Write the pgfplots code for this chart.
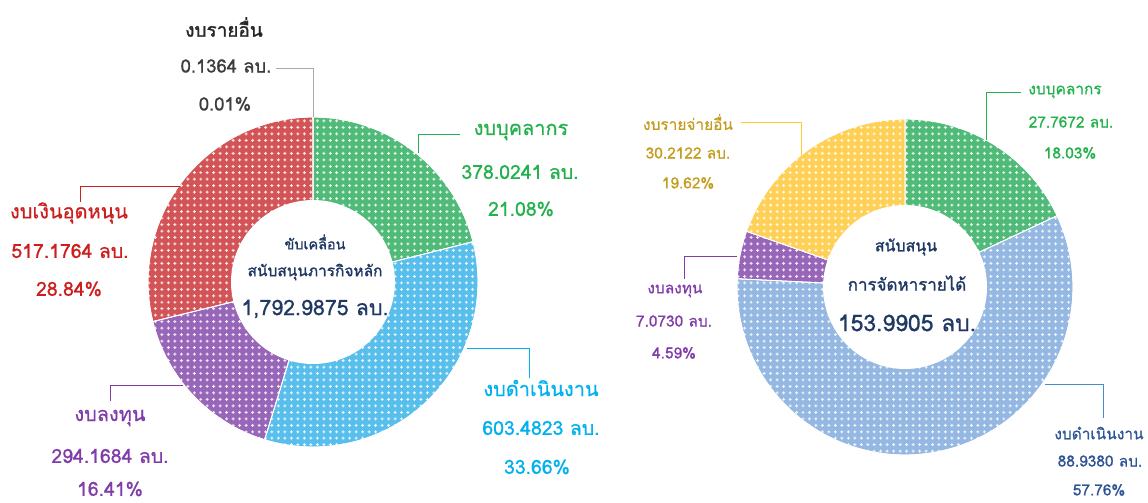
\documentclass[border=0pt]{standalone}
\usepackage{fontspec}
\setmainfont[Script=Thai]{Loma}
\newfontfamily\med[Script=Thai, FakeBold=0.7]{Loma}
\newfontfamily\hvy[Script=Thai, FakeBold=1.4]{Loma}
\usepackage{pgfplots}
\pgfplotsset{compat=1.18}
\usetikzlibrary{patterns}
\pgfdeclarepatternformonly{plusgrid}{\pgfqpoint{-2pt}{-2pt}}{\pgfqpoint{2pt}{2pt}}{\pgfqpoint{6.5pt}{6.5pt}}{%
  \pgfpathrectangle{\pgfqpoint{-1.5pt}{-0.5pt}}{\pgfqpoint{3pt}{1pt}}%
  \pgfpathrectangle{\pgfqpoint{-0.5pt}{-1.5pt}}{\pgfqpoint{1pt}{3pt}}%
  \pgfusepath{fill}}
% slice fill colours
\definecolor{gSl}{RGB}{80,186,120}
\definecolor{bSl}{RGB}{88,190,236}
\definecolor{pSl}{RGB}{152,102,184}
\definecolor{rSl}{RGB}{210,84,86}
\definecolor{gySl}{RGB}{160,160,160}
\definecolor{rbSl}{RGB}{148,184,226}
\definecolor{ySl}{RGB}{255,208,86}
% text colours
\definecolor{gT}{RGB}{34,177,76}
\definecolor{rT}{RGB}{204,30,30}
\definecolor{pT}{RGB}{128,60,168}
\definecolor{cT}{RGB}{0,176,240}
\definecolor{nT}{RGB}{31,56,100}
\definecolor{yT}{RGB}{196,156,30}
\definecolor{yL}{RGB}{255,204,51}
\definecolor{bT}{RGB}{47,84,150}
\definecolor{bL}{RGB}{68,140,205}
\definecolor{grT}{RGB}{60,60,60}
\definecolor{grL}{RGB}{170,170,170}
% ---- data (percent shares) ----
% left: personnel, operating, investment, subsidy, other
\def\LA{21.08}\def\LB{33.66}\def\LC{16.41}\def\LD{28.84}\def\LE{0.01}
% right: personnel, operating, investment, other expenses
\def\RA{18.03}\def\RB{57.76}\def\RC{4.59}\def\RD{19.62}
\pgfmathsetmacro\La{\LA}
\pgfmathsetmacro\Lb{\La+\LB}
\pgfmathsetmacro\Lc{\Lb+\LC}
\pgfmathsetmacro\Ld{\Lc+\LD}
\pgfmathsetmacro\Le{\Ld+\LE}
\pgfmathsetmacro\Ra{\RA}
\pgfmathsetmacro\Rb{\Ra+\RB}
\pgfmathsetmacro\Rc{\Rb+\RC}
\pgfmathsetmacro\Rd{\Rc+\RD}
% cx, cy, R, p0, p1, colour
\newcommand{\slice}[6]{%
  \addplot[draw=white, line width=0.8pt, fill=#6, no markers, domain=#4:#5, samples=90, variable=\t,
    postaction={pattern=plusgrid, pattern color=white!85!#6}]
    ({#1+#3*cos(90-3.6*\t)},{#2-#3*sin(90-3.6*\t)}) -- (#1,#2) -- cycle;}
\newcommand{\hole}[3]{%
  \addplot[draw=none, fill=white, no markers, domain=0:360, samples=120, variable=\t]
    ({#1+#3*cos(\t)},{#2-#3*sin(\t)}) -- cycle;}
\newcommand{\fs}[1]{\fontsize{#1}{#1}\selectfont}
\begin{document}
\begin{tikzpicture}
\begin{axis}[width=1148bp, height=503bp, scale only axis, xmin=0, xmax=1148, ymin=0, ymax=503,
  y dir=reverse, hide axis, clip=false]
% ---------- left donut ----------
\slice{313}{282}{165}{0}{\La}{gSl}
\slice{313}{282}{165}{\La}{\Lb}{bSl}
\slice{313}{282}{165}{\Lb}{\Lc}{pSl}
\slice{313}{282}{165}{\Lc}{\Ld}{rSl}
\slice{313}{282}{165}{\Ld}{\Le}{gySl}
\hole{313}{282}{82}
% ---------- right donut ----------
\slice{905}{287}{168}{0}{\Ra}{gSl}
\slice{905}{287}{168}{\Ra}{\Rb}{rbSl}
\slice{905}{287}{168}{\Rb}{\Rc}{pSl}
\slice{905}{287}{168}{\Rc}{\Rd}{ySl}
\hole{905}{287}{82}
% ---------- left labels ----------
\draw[grL, line width=1pt] (276,68) -- (313,68) -- (313,117);
\node[font=\fs{19}\hvy, text=black!85] at (224,27) {งบรายอื่น};
\node[font=\fs{18.5}\med, text=grT] at (226,66) {0.1364 ลบ.};
\node[font=\fs{18.5}\med, text=grT] at (225,104) {0.01\%};

\draw[gT, line width=1pt] (418,153) -- (418,134) -- (460,134);
\node[font=\fs{20}\med, text=gT] at (521,132) {งบบุคลากร};
\node[font=\fs{19.5}\med, text=gT] at (520,172) {378.0241 ลบ.};
\node[font=\fs{19.5}\med, text=gT] at (521,209) {21.08\%};

\draw[rT, line width=1pt] (180,186) -- (80,186) -- (80,202);
\node[font=\fs{20}\med, text=rT] at (69,213) {งบเงินอุดหนุน};
\node[font=\fs{19.5}\med, text=rT] at (70,251) {517.1764 ลบ.};
\node[font=\fs{19.5}\med, text=rT] at (69,289) {28.84\%};

\draw[pT, line width=1pt] (183,385) -- (110,385) -- (110,401);
\node[font=\fs{20}\med, text=pT] at (110,418) {งบลงทุน};
\node[font=\fs{19.5}\med, text=pT] at (110,456) {294.1684 ลบ.};
\node[font=\fs{19.5}\med, text=pT] at (110,489) {16.41\%};

\draw[cT, line width=1pt] (467,348) -- (529,348) -- (529,378);
\node[font=\fs{20}\med, text=cT] at (541,388) {งบดำเนินงาน};
\node[font=\fs{19.5}\med, text=cT] at (541,428) {603.4823 ลบ.};
\node[font=\fs{19.5}\med, text=cT] at (537,467) {33.66\%};

\node[font=\fs{14.5}\hvy, text=nT] at (315,242) {ขับเคลื่อน};
\node[font=\fs{15.5}\hvy, text=nT] at (315,272) {สนับสนุนภารกิจหลัก};
\node[font=\fs{21.5}\med, text=nT] at (315,309) {1,792.9875 ลบ.};
% ---------- right labels ----------
\draw[yL, line width=1pt] (741,122) -- (801,122) -- (801,155);
\node[font=\fs{15.5}\med, text=yT] at (688,122) {งบรายจ่ายอื่น};
\node[font=\fs{15.5}\med, text=yT] at (688,153) {30.2122 ลบ.};
\node[font=\fs{15.5}\med, text=yT] at (688,183) {19.62\%};

\draw[gT, line width=1pt] (986,140) -- (986,92) -- (1021,92);
\node[font=\fs{15.5}\med, text=gT] at (1065,92) {งบบุคลากร};
\node[font=\fs{15.5}\med, text=gT] at (1071,122) {27.7672 ลบ.};
\node[font=\fs{15.5}\med, text=gT] at (1070,153) {18.03\%};

\draw[pT, line width=1pt] (737,256) -- (684,256) -- (684,279);
\node[font=\fs{15.5}\med, text=pT] at (675,291) {งบลงทุน};
\node[font=\fs{15.5}\med, text=pT] at (674,321) {7.0730 ลบ.};
\node[font=\fs{15.5}\med, text=pT] at (674,353) {4.59\%};

\draw[bL, line width=1pt] (1045,384) -- (1103,384) -- (1103,418);
\node[font=\fs{15.5}\med, text=bT] at (1099,433) {งบดำเนินงาน};
\node[font=\fs{15.5}\med, text=bT] at (1100,461) {88.9380 ลบ.};
\node[font=\fs{15.5}\med, text=bT] at (1099,490) {57.76\%};

\node[font=\fs{16}\hvy, text=nT] at (906,247) {สนับสนุน};
\node[font=\fs{17}\hvy, text=nT] at (907,283) {การจัดหารายได้};
\node[font=\fs{23}\med, text=nT] at (907,323) {153.9905 ลบ.};
\end{axis}
\pgfresetboundingbox
\path (current axis.south west) rectangle (current axis.north east);
\end{tikzpicture}
\end{document}
